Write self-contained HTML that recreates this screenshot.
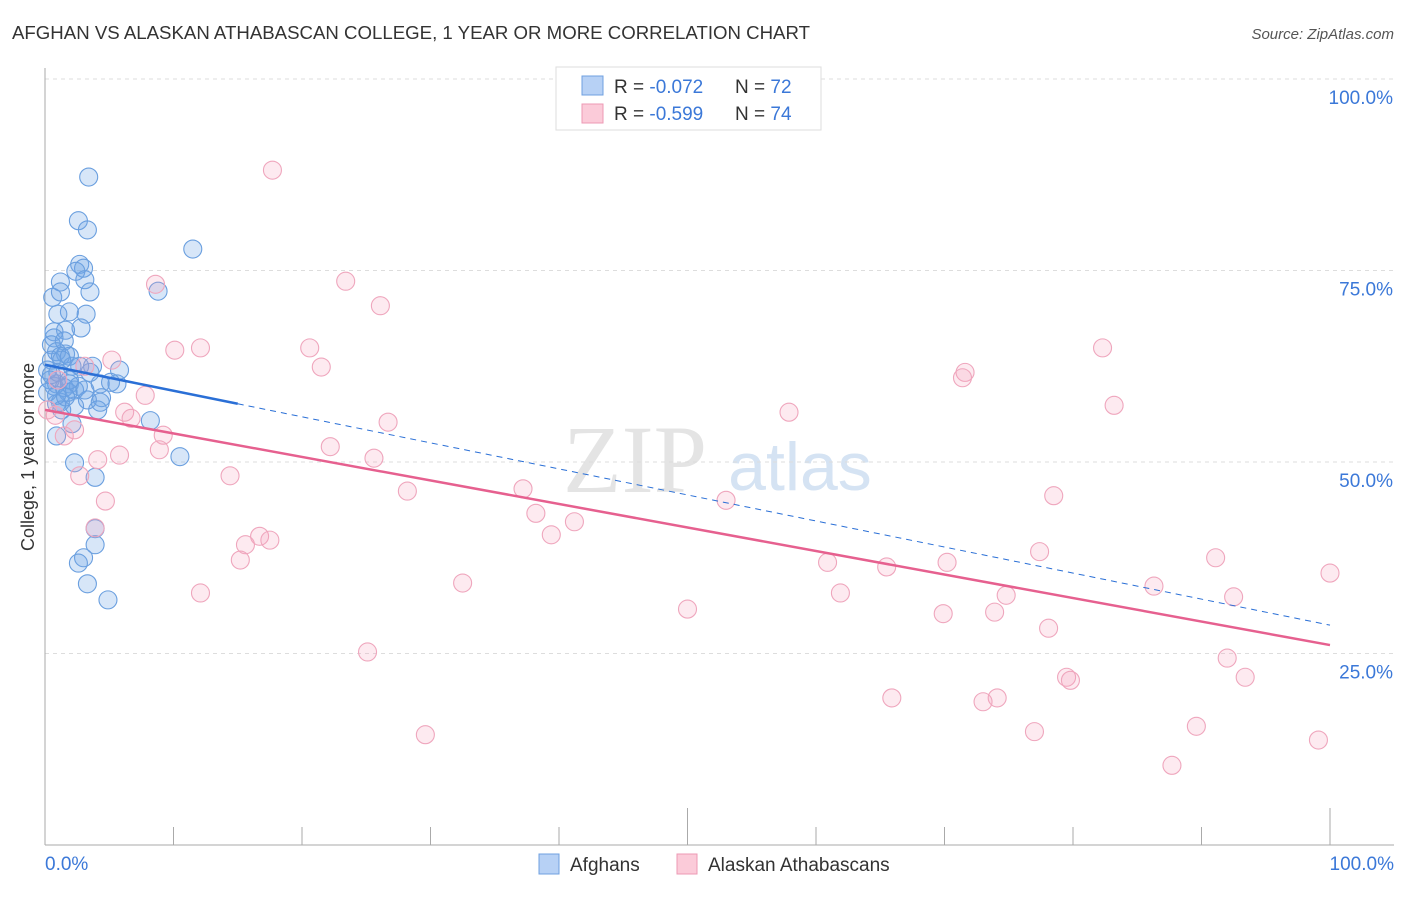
<!DOCTYPE html>
<html><head><meta charset="utf-8"><style>
body{margin:0;background:#fff;font-family:"Liberation Sans",sans-serif}
</style></head><body>
<svg width="1406" height="892" xmlns="http://www.w3.org/2000/svg" id="chart" font-family="Liberation Sans, sans-serif">
<text x="12" y="39" font-size="18" fill="#333" textLength="798" lengthAdjust="spacingAndGlyphs">AFGHAN VS ALASKAN ATHABASCAN COLLEGE, 1 YEAR OR MORE CORRELATION CHART</text>
<text x="1394" y="39" font-size="15" fill="#555" font-style="italic" text-anchor="end">Source: ZipAtlas.com</text>
<g>
<text x="635" y="492" font-size="96" fill="#e4e4e4" font-family="Liberation Serif, serif" text-anchor="middle">ZIP</text>
<text x="800" y="490" font-size="68" fill="#d5e3f3" text-anchor="middle">atlas</text>
</g>
<g id="grid"></g>
<g id="axes"></g>
<g id="marks"></g>
<text transform="translate(34,457) rotate(-90)" font-size="18" fill="#333" text-anchor="middle">College, 1 year or more</text>
<g>
<rect x="556" y="67" width="265" height="63" fill="#fff" stroke="#ddd"/>
<rect x="582" y="76" width="21" height="19" fill="#b7d1f5" stroke="#6fa0e0"/>
<rect x="582" y="104" width="21" height="19" fill="#fbcbd9" stroke="#ec9ab4"/>
<text x="614" y="93" font-size="19" fill="#333">R = <tspan fill="#3b78d8">-0.072</tspan></text>
<text x="735" y="93" font-size="19" fill="#333">N = <tspan fill="#3b78d8">72</tspan></text>
<text x="614" y="120" font-size="19" fill="#333">R = <tspan fill="#3b78d8">-0.599</tspan></text>
<text x="735" y="120" font-size="19" fill="#333">N = <tspan fill="#3b78d8">74</tspan></text>
</g>
<g>
<rect x="539" y="854" width="20" height="20" fill="#b7d1f5" stroke="#6fa0e0"/>
<text x="570" y="871" font-size="19" fill="#333">Afghans</text>
<rect x="677" y="854" width="20" height="20" fill="#fbcbd9" stroke="#ec9ab4"/>
<text x="708" y="871" font-size="19" fill="#333">Alaskan Athabascans</text>
</g>
</svg>
<script>
const blueX=[3.4,2.6,3.3,11.5,2.7,3.0,2.4,3.1,1.2,8.8,3.5,0.6,1.2,1.9,3.2,1.0,2.8,1.6,0.7,0.7,1.5,0.5,0.9,1.6,1.2,1.9,0.5,2.7,3.7,2.1,5.8,0.9,1.9,2.6,4.3,5.6,0.7,1.5,2.3,4.4,3.3,1.2,2.3,4.1,0.9,8.2,2.1,10.5,0.9,2.3,3.9,3.9,3.9,3.0,2.6,3.3,4.9,1.3,0.2,0.4,0.2,1.3,1.8,5.1,0.9,1.6,0.5,3.1,3.5,1.0,1.9,4.3];
const blueY=[87.2,81.5,80.3,77.8,75.8,75.3,74.9,73.8,73.5,72.3,72.2,71.5,72.2,69.6,69.3,69.3,67.5,67.2,67.0,66.2,65.8,65.3,64.4,64.1,63.8,63.8,63.3,62.5,62.5,62.5,62.0,60.2,60.2,59.9,60.2,60.2,59.9,59.7,59.4,58.4,58.1,57.8,57.3,56.8,57.6,55.4,55.0,50.7,53.4,49.9,48.0,41.3,39.2,37.5,36.8,34.1,32.0,56.8,59.1,60.7,62.0,63.3,59.1,60.4,58.7,58.5,61.4,59.4,61.7,61.7,60.7,57.8];
const pinkX=[17.7,8.6,23.4,26.1,10.1,12.1,20.6,21.5,5.2,3.1,82.3,71.6,71.4,7.8,83.2,6.2,6.7,57.9,26.7,9.2,1.5,2.3,22.2,8.9,4.1,5.8,25.6,2.7,14.4,28.2,37.2,78.5,4.7,53.0,38.2,41.2,39.4,3.9,16.7,17.5,15.6,15.2,77.4,60.9,70.2,65.5,91.1,32.5,86.3,12.1,61.9,74.8,92.5,100,50.0,69.9,73.9,78.1,25.1,92.0,79.5,79.8,93.4,65.9,74.1,73.0,29.6,77.0,89.6,99.1,87.7,0.8,1.0,0.2];
const pinkY=[88.1,73.2,73.6,70.4,64.6,64.9,64.9,62.4,63.3,62.5,64.9,61.7,61.0,58.7,57.4,56.5,55.7,56.5,55.2,53.5,53.4,54.2,52.0,51.6,50.3,50.9,50.5,48.2,48.2,46.2,46.5,45.6,44.9,45.0,43.3,42.2,40.5,41.4,40.3,39.8,39.2,37.2,38.3,36.9,36.9,36.3,37.5,34.2,33.8,32.9,32.9,32.6,32.4,35.5,30.8,30.2,30.4,28.3,25.2,24.4,21.9,21.5,21.9,19.2,19.2,18.7,14.4,14.8,15.5,13.7,10.4,56.1,60.7,56.8];
const blueTrend=[62.7,28.7];
const pinkTrend=[56.8,26.1];
const yTicks=[25,50,75,100];
const yTickLabels=["25.0%","50.0%","75.0%","100.0%"];
const xTicks=[0,10,20,30,40,50,60,70,80,90,100];

const NS="http://www.w3.org/2000/svg";
const sx=v=>45+v*12.85;
const sy=v=>845-v*7.66;
function mk(tag,attrs,parent){const e=document.createElementNS(NS,tag);for(const k in attrs)e.setAttribute(k,attrs[k]);document.getElementById(parent).appendChild(e);return e;}

yTicks.forEach((t,i)=>{
  const g=mk('line',{x1:45,x2:1394,y1:sy(t),y2:sy(t),stroke:'#ddd','stroke-dasharray':'4,4'},'grid');
  
  
  const l=mk('text',{x:1393,y:sy(t)+25,'font-size':19,fill:'#3b78d8','text-anchor':'end'},'grid');
  l.textContent=yTickLabels[i];
  
  
});
const ax=mk('line',{x1:45,x2:45,y1:68,y2:845,stroke:'#aaa'},'axes');


const bx=mk('line',{x1:45,x2:1394,y1:845,y2:845,stroke:'#aaa'},'axes');


xTicks.forEach(t=>{
  const tk=mk('line',{x1:sx(t),x2:sx(t),y1:845,y2:t%50===0&&t>0?808:827,stroke:'#aaa'},'axes');
  
  
});
const x0=mk('text',{x:45,y:870,'font-size':19,fill:'#3b78d8'},'axes');x0.textContent='0.0%';


const x1=mk('text',{x:1394,y:870,'font-size':19,fill:'#3b78d8','text-anchor':'end'},'axes');x1.textContent='100.0%';



blueX.forEach((v,i)=>{
  const c=mk('circle',{cx:sx(v),cy:sy(blueY[i]),r:9,fill:'rgba(110,165,230,0.28)',stroke:'#6a9fdf','stroke-width':1.1},'marks');
  
  
});
pinkX.forEach((v,i)=>{
  const c=mk('circle',{cx:sx(v),cy:sy(pinkY[i]),r:9,fill:'rgba(245,160,185,0.22)',stroke:'#efa6bd','stroke-width':1.1},'marks');
  
  
});
const by=x=>blueTrend[0]+(blueTrend[1]-blueTrend[0])*x/100;
const t1=mk('line',{x1:sx(0),y1:sy(by(0)),x2:sx(15),y2:sy(by(15)),stroke:'#2a6fd6','stroke-width':2.5},'marks');


const t2=mk('line',{x1:sx(15),y1:sy(by(15)),x2:sx(100),y2:sy(by(100)),stroke:'#2a6fd6','stroke-width':1,'stroke-dasharray':'6,5'},'marks');


const t3=mk('line',{x1:sx(0),y1:sy(pinkTrend[0]),x2:sx(100),y2:sy(pinkTrend[1]),stroke:'#e6608f','stroke-width':2.5},'marks');


</script>
</body></html>
